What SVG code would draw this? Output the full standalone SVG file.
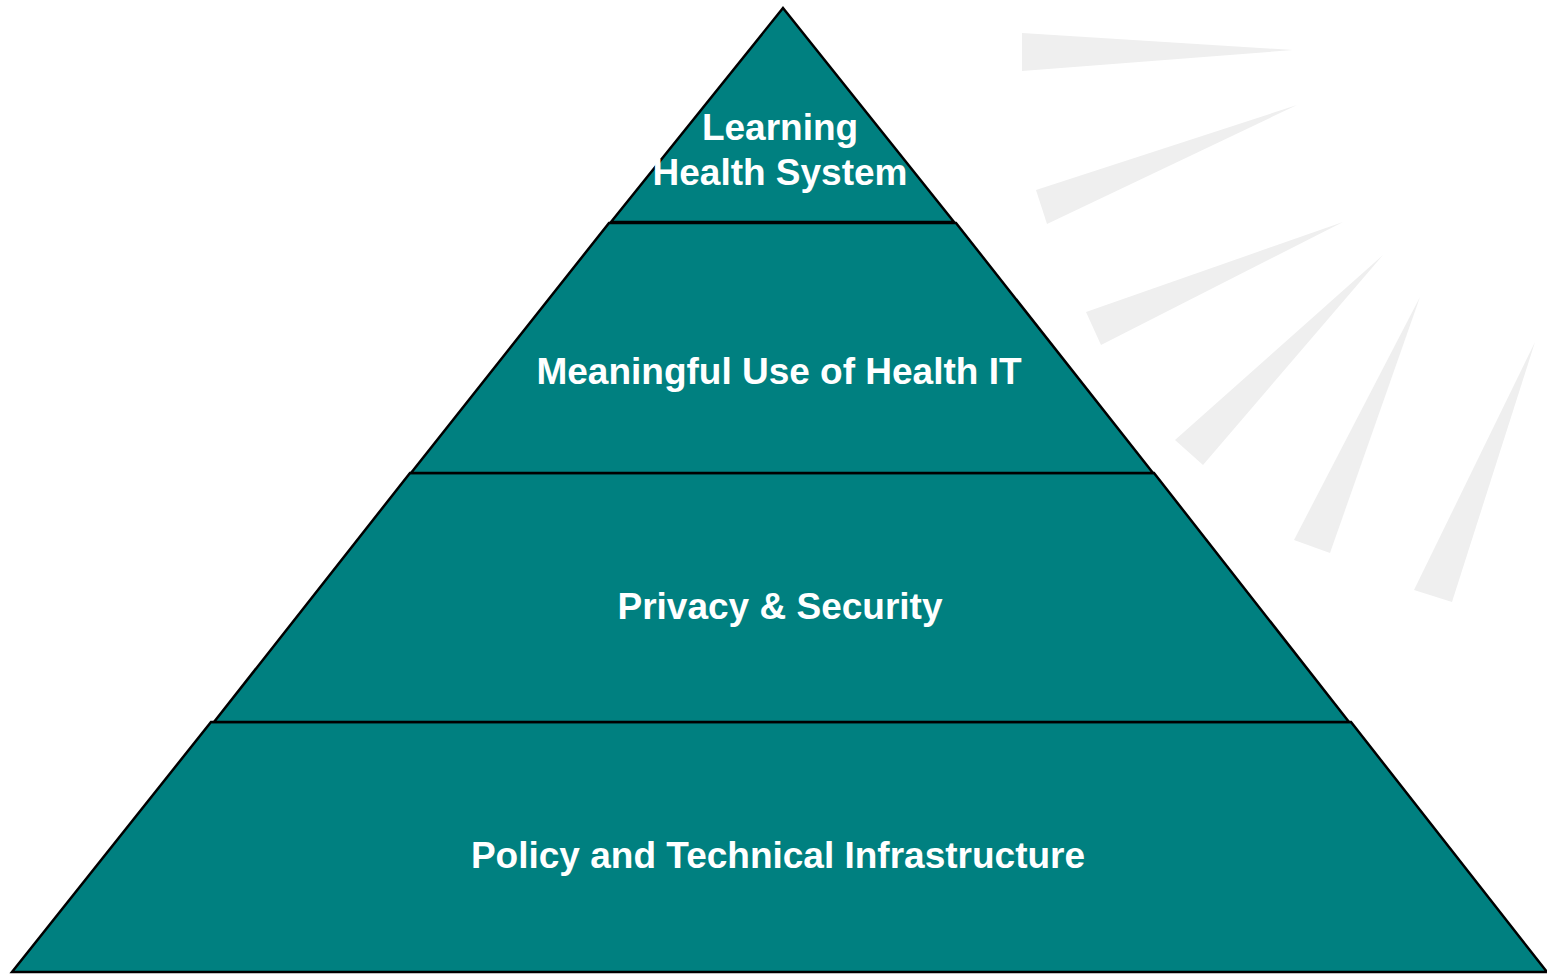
<svg xmlns="http://www.w3.org/2000/svg" width="1547" height="974" viewBox="0 0 1547 974">
<style>
.layer{fill:#008080;stroke:#000;stroke-width:2.5;stroke-linejoin:miter}
.ray{fill:#efefef}
.lbl{fill:#fff;font-family:"Liberation Sans",Arial,sans-serif;font-weight:bold;font-size:37px;text-anchor:middle}
</style>
<rect width="1547" height="974" fill="#fff"/>
<g id="rays">
<polygon class="ray" points="1022,33 1022,71 1293,50"/>
<polygon class="ray" points="1036,190 1047,224 1297,105"/>
<polygon class="ray" points="1086,312 1101,345 1343,222"/>
<polygon class="ray" points="1175,440 1203,465 1383,255"/>
<polygon class="ray" points="1294,540 1330,553 1420,297"/>
<polygon class="ray" points="1414,590 1452,602 1535,342"/>
</g>
<g id="layer4">
<polygon class="layer" points="211,722 1351,722 1547,972 12,972"/>
<text class="lbl" x="778" y="868">Policy and Technical Infrastructure</text>
</g>
<g id="layer3">
<polygon class="layer" points="410,473 1154,473 1349,722 214,722"/>
<text class="lbl" x="780" y="619">Privacy &amp; Security</text>
</g>
<g id="layer2">
<polygon class="layer" points="609,223 956,223 1153,473 411,473"/>
<text class="lbl" x="779" y="384">Meaningful Use of Health IT</text>
</g>
<g id="layer1">
<polygon class="layer" points="783,8 954,222 611,222"/>
<text class="lbl" x="780" y="140">Learning</text>
<text class="lbl" x="780" y="185">Health System</text>
</g>
<g id="connectors"/>
</svg>
